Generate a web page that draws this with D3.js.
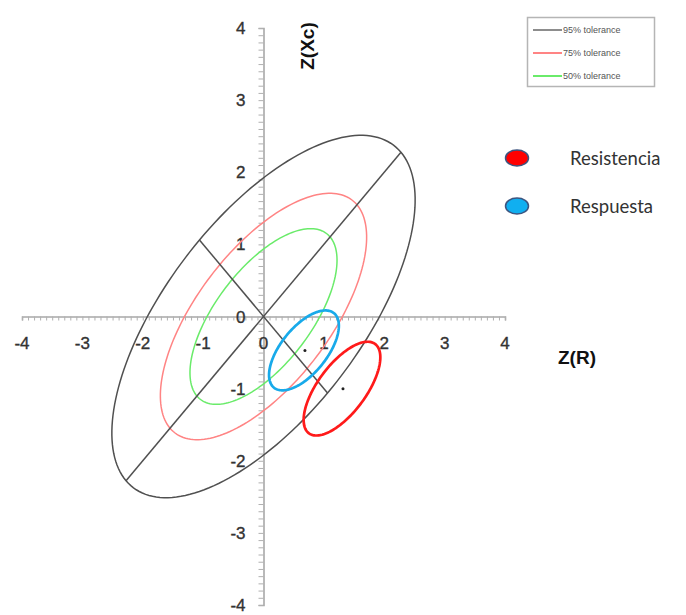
<!DOCTYPE html>
<html>
<head>
<meta charset="utf-8">
<script src="https://cdn.jsdelivr.net/npm/d3@7"></script>
<style>
  html, body { margin: 0; padding: 0; background: #fff; }
  svg { display: block; }
</style>
</head>
<body>
<svg id="chart" width="686" height="615"></svg>
<script>
// Axis ticks (Z-scores)
const xTicks = [-4, -3, -2, -1, 0, 1, 2, 3, 4];
const yTicks = [-4, -3, -2, -1, 0, 1, 2, 3, 4];

// Tolerance ellipses of the reference population (semi-axes in Z units, 45° orientation)
const toleranceLabels = ["95% tolerance", "75% tolerance", "50% tolerance"];
const toleranceMajor = [3.22, 2.19, 1.56];
const toleranceMinor = [1.50, 1.02, 0.73];
const toleranceAngle = 45;
const toleranceColors = ["#505050", "#ff8484", "#6aeb6a"];

// Group confidence ellipses
const groups = ["Resistencia", "Respuesta"];
const groupR = [1.30, 0.67];
const groupXc = [-1.00, -0.47];
const groupMajor = [0.83, 0.72];
const groupMinor = [0.37, 0.35];
const groupAngle = [46, 43];
const groupColors = ["#ff1a1a", "#18aaea"];

const svg = d3.select("#chart");
const x = d3.scaleLinear().domain([-4, 4]).range([22, 505]);
const y = d3.scaleLinear().domain([-4, 4]).range([605, 28]);

function ellipsePoints(cx, cy, a, b, deg) {
  const t = deg * Math.PI / 180;
  return d3.range(0, 361, 2).map(k => {
    const u = k * Math.PI / 180;
    const ex = a * Math.cos(u), ey = b * Math.sin(u);
    return [cx + ex * Math.cos(t) - ey * Math.sin(t), cy + ex * Math.sin(t) + ey * Math.cos(t)];
  });
}
const line = d3.line().x(d => x(d[0])).y(d => y(d[1])).curve(d3.curveLinearClosed);

// Axes crossing at the origin
const xAxis = d3.axisBottom(x).tickValues(d3.range(-40, 41).map(v => v / 10)).tickSize(4).tickFormat("");
const yAxis = d3.axisLeft(y).tickValues(d3.range(-40, 41).map(v => v / 10)).tickSize(5).tickFormat("");
const gx = svg.append("g").attr("transform", `translate(0,${y(0)})`).call(xAxis);
const gy = svg.append("g").attr("transform", `translate(${x(0)},0)`).call(yAxis);
[gx, gy].forEach(g => {
  g.select(".domain").attr("stroke", "#a8a8a8").attr("stroke-width", 1.6);
  g.selectAll(".tick line").attr("stroke", "#b0b0b0").attr("stroke-width", 1);
});

// Tick labels
const tickFont = g => g
  .attr("font-family", "Liberation Sans, Arial, sans-serif")
  .attr("font-size", 17).attr("fill", "#333")
  .attr("stroke", "#333").attr("stroke-width", 0.35);
svg.append("g").selectAll("text").data(xTicks).join("text")
  .attr("x", d => x(d)).attr("y", y(0) + 32)
  .attr("text-anchor", "middle")
  .call(tickFont)
  .text(d => d);
svg.append("g").selectAll("text").data(yTicks).join("text")
  .attr("x", x(0) - 18).attr("y", d => y(d) + 6)
  .attr("text-anchor", "end")
  .call(tickFont)
  .text(d => d);

// Tolerance ellipses
svg.append("g").selectAll("path").data(toleranceMajor).join("path")
  .attr("d", (a, i) => line(ellipsePoints(0, 0, a, toleranceMinor[i], toleranceAngle)))
  .attr("fill", "none")
  .attr("stroke", (d, i) => toleranceColors[i])
  .attr("stroke-width", 1.5);

// Principal axes of the 95% ellipse
const ta = toleranceAngle * Math.PI / 180;
const axesSegs = [
  [[-toleranceMajor[0] * Math.cos(ta), -toleranceMajor[0] * Math.sin(ta)], [toleranceMajor[0] * Math.cos(ta), toleranceMajor[0] * Math.sin(ta)]],
  [[-toleranceMinor[0] * Math.cos(ta), toleranceMinor[0] * Math.sin(ta)], [toleranceMinor[0] * Math.cos(ta), -toleranceMinor[0] * Math.sin(ta)]]
];
svg.append("g").selectAll("line").data(axesSegs).join("line")
  .attr("x1", d => x(d[0][0])).attr("y1", d => y(d[0][1]))
  .attr("x2", d => x(d[1][0])).attr("y2", d => y(d[1][1]))
  .attr("stroke", "#505050").attr("stroke-width", 1.5);

// Group ellipses and their mean points
svg.append("g").selectAll("path").data(groups).join("path")
  .attr("d", (g, i) => line(ellipsePoints(groupR[i], groupXc[i], groupMajor[i], groupMinor[i], groupAngle[i])))
  .attr("fill", "none")
  .attr("stroke", (d, i) => groupColors[i])
  .attr("stroke-width", 2.7);
svg.append("g").selectAll("circle").data(groups).join("circle")
  .attr("cx", (g, i) => x(groupR[i]) + 1).attr("cy", (g, i) => y(groupXc[i]))
  .attr("r", 1.5).attr("fill", "#222");

// Axis titles
svg.append("text")
  .attr("transform", `translate(${x(0) + 44},46) rotate(-90)`)
  .attr("text-anchor", "middle").attr("dominant-baseline", "central")
  .attr("font-family", "Liberation Sans, Arial, sans-serif")
  .attr("font-size", 19).attr("font-weight", "bold").attr("fill", "#111")
  .text("Z(Xc)");
svg.append("text")
  .attr("x", 577).attr("y", 364)
  .attr("text-anchor", "middle")
  .attr("font-family", "Liberation Sans, Arial, sans-serif")
  .attr("font-size", 19).attr("font-weight", "bold").attr("fill", "#111")
  .text("Z(R)");

// Tolerance legend
const lg = svg.append("g");
lg.append("rect").attr("x", 527.5).attr("y", 17.5).attr("width", 127).attr("height", 69)
  .attr("fill", "#fff").attr("stroke", "#b5b5b5").attr("stroke-width", 1.5);
const lgRows = lg.selectAll("g").data(toleranceLabels).join("g")
  .attr("transform", (d, i) => `translate(0,${30 + i * 23})`);
lgRows.append("line").attr("x1", 533).attr("x2", 562).attr("y1", 0).attr("y2", 0)
  .attr("stroke", (d, i) => toleranceColors[i]).attr("stroke-width", (d, i) => i === 0 ? 1.3 : 2);
lgRows.append("text").attr("x", 563).attr("y", 3)
  .attr("font-family", "Liberation Sans, Arial, sans-serif")
  .attr("font-size", 9).attr("fill", "#555")
  .text(d => d);

// Group legend
const gl = svg.append("g").selectAll("g").data(groups).join("g")
  .attr("transform", (d, i) => `translate(0,${158 + i * 48})`);
gl.append("ellipse").attr("cx", 517).attr("cy", 0).attr("rx", 11.5).attr("ry", 8)
  .attr("fill", (d, i) => i === 0 ? "#ff0000" : "#10aff0")
  .attr("stroke", "#3d5580").attr("stroke-width", 1.5);
gl.append("text").attr("x", 570).attr("y", 7)
  .attr("font-family", "Lato, 'Open Sans', sans-serif")
  .attr("font-size", 18.5).attr("fill", "#333")
  .text(d => d);
</script>
</body>
</html>
